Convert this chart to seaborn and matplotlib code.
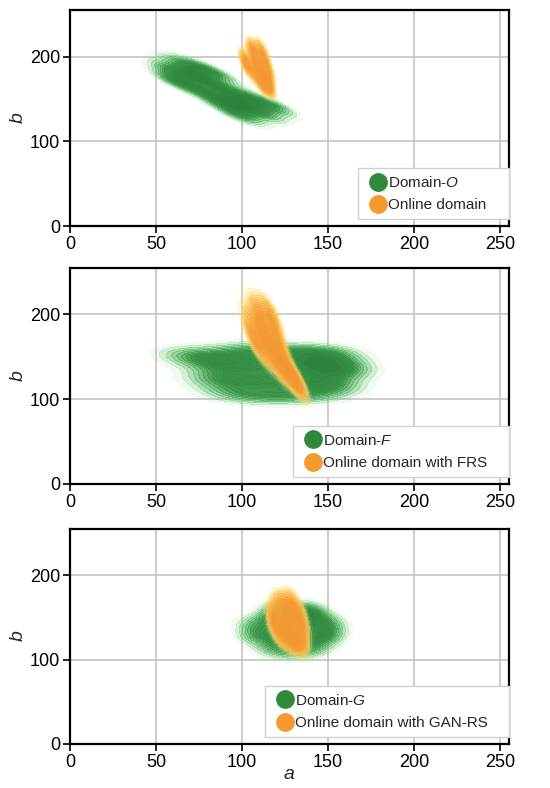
import numpy as np
import pandas as pd
import seaborn as sns
import matplotlib
matplotlib.use('Agg')
import matplotlib.pyplot as plt
from matplotlib.colors import LinearSegmentedColormap
from matplotlib.lines import Line2D

# points (a, b), spread over each colour cloud
# panel 1: Domain-O vs online domain
dom_o_a = [54, 56, 60, 60, 60, 66, 66, 66, 72, 72, 72, 78, 78, 84, 84, 90,
           80, 82, 88, 88, 94, 94, 94, 100, 100, 100, 106, 106, 106, 112, 112, 118, 118, 124]
dom_o_b = [188, 176, 194, 182, 170, 192, 180, 168, 190, 178, 166, 186, 174, 182, 170, 176,
           158, 148, 158, 146, 156, 144, 132, 154, 142, 130, 150, 138, 128, 146, 134, 144, 132, 138]
online_a = [105, 110, 101, 107, 113, 102, 108, 114, 105, 111, 116, 110, 115, 113, 117]
online_b = [214, 214, 202, 204, 202, 192, 192, 190, 182, 182, 180, 172, 170, 164, 160]

# panel 2: Domain-F vs online domain with FRS
dom_f_a = [62, 68, 76, 76, 85, 85, 85, 85, 95, 95, 95, 95, 105, 105, 105, 105,
           115, 115, 115, 115, 125, 125, 125, 125, 135, 135, 135, 135,
           145, 145, 145, 145, 153, 153, 153, 153, 160, 160, 160, 166]
dom_f_b = [155, 150, 126, 145, 110, 125, 140, 154, 106, 123, 140, 156, 104, 122, 140, 158,
           104, 122, 140, 158, 104, 122, 140, 157, 104, 122, 140, 155,
           106, 123, 140, 155, 110, 125, 140, 155, 116, 134, 150, 136]
frs_a = [107, 113, 104, 111, 118, 104, 111, 119, 105, 112, 120, 107, 114, 121, 110, 117,
         124, 116, 123, 122, 128, 127, 132, 132, 135]
frs_b = [214, 214, 204, 205, 203, 192, 192, 190, 180, 180, 178, 168, 168, 166, 156, 156,
         155, 144, 144, 132, 132, 124, 122, 116, 113]

# panel 3: Domain-G vs online domain with GAN-RS
dom_g_a = [105, 105, 115, 115, 115, 125, 125, 125, 125, 135, 135, 135, 135,
           145, 145, 145, 153, 153, 120, 140]
dom_g_b = [128, 142, 114, 130, 148, 110, 126, 142, 157, 110, 126, 142, 157,
           114, 130, 148, 128, 142, 160, 158]
gan_a = [121, 128, 118, 126, 133, 118, 126, 134, 120, 128, 136, 124, 132, 130, 136]
gan_b = [173, 175, 160, 162, 160, 147, 147, 147, 134, 134, 134, 122, 122, 116, 116]

green_labels = ['Domain-$O$', 'Domain-$F$', 'Domain-$G$']
orange_labels = ['Online domain', 'Online domain with FRS', 'Online domain with GAN-RS']
legend_left = [0.656, 0.508, 0.444]  # left edge of each legend box, axes fraction

sns.set_theme(style='ticks')
plt.rcParams['font.family'] = ['Liberation Sans', 'DejaVu Sans']
plt.rcParams['mathtext.fontset'] = 'custom'
plt.rcParams['mathtext.it'] = 'Liberation Sans:italic'
plt.rcParams['mathtext.rm'] = 'Liberation Sans'

green_cmap = LinearSegmentedColormap.from_list(
    'gr', [(0.60, 0.86, 0.60, 0.0), (0.42, 0.78, 0.47, 0.6), (0.22, 0.58, 0.28, 0.95), (0.17, 0.51, 0.23, 1.0)])
orange_cmap = LinearSegmentedColormap.from_list(
    'or', [(1.0, 0.95, 0.55, 0.0), (0.99, 0.78, 0.35, 0.7), (0.96, 0.61, 0.21, 0.97), (0.95, 0.59, 0.19, 1.0)])
green_col = '#2e8a3a'
orange_col = '#f49a2e'

fig = plt.figure(figsize=(5.5, 7.88), dpi=100)
boxes = [[0.127, 0.713, 0.798, 0.274],
         [0.127, 0.386, 0.798, 0.274],
         [0.127, 0.056, 0.798, 0.273]]

panels = [(dom_o_a, dom_o_b, online_a, online_b),
          (dom_f_a, dom_f_b, frs_a, frs_b),
          (dom_g_a, dom_g_b, gan_a, gan_b)]

for i, (ga, gb, oa, ob) in enumerate(panels):
    ax = fig.add_axes(boxes[i])
    ax.set_axisbelow(True)
    ax.grid(True, color='#c4c4c4', linewidth=1.2)
    # antialiased off hides the seams between the filled levels
    sns.kdeplot(x=ga, y=gb, fill=True, levels=20, thresh=0.06, bw_adjust=0.85,
                cmap=green_cmap, gridsize=150, antialiased=False, ax=ax)
    sns.kdeplot(x=oa, y=ob, fill=True, levels=20, thresh=0.06, bw_adjust=0.85,
                cmap=orange_cmap, gridsize=150, antialiased=False, ax=ax)
    ax.set_xlim(0, 255)
    ax.set_ylim(0, 255)
    ax.set_xticks([0, 50, 100, 150, 200, 250])
    ax.set_yticks([0, 100, 200])
    ax.tick_params(direction='out', length=5, width=1.2, labelsize=13, colors='black', pad=2)
    for s in ax.spines.values():
        s.set_linewidth(1.6)
        s.set_color('black')
    ax.set_ylabel('$b$', fontsize=14, labelpad=2)
    ax.set_xlabel('$a$' if i == 2 else '', fontsize=14, labelpad=-3)
    handles = [Line2D([], [], marker='o', linestyle='', markersize=12.5, color=green_col),
               Line2D([], [], marker='o', linestyle='', markersize=12.5, color=orange_col)]
    # expand mode so the box spans from legend_left to the right spine
    x0 = legend_left[i]
    leg = ax.legend(handles, [green_labels[i], orange_labels[i]], loc='lower left',
                    bbox_to_anchor=(x0, 0.032, 1.0 - x0, 0.2), mode='expand', borderaxespad=0,
                    fontsize=11, handletextpad=-0.2, borderpad=0.45, labelspacing=0.55,
                    handlelength=1.7, frameon=True, fancybox=False, edgecolor='#d0d0d0',
                    framealpha=1)
    leg.get_frame().set_linewidth(1.0)

fig.savefig('out.png', dpi=100)
